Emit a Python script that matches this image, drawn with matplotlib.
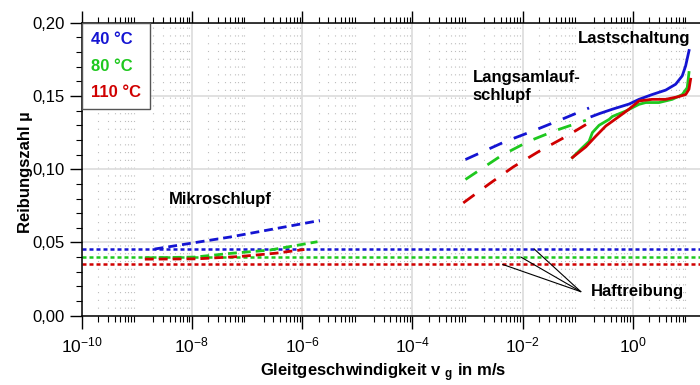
import numpy as np
import matplotlib
matplotlib.use("Agg")
import matplotlib.pyplot as plt
from matplotlib.ticker import FixedLocator, MultipleLocator, FuncFormatter

plt.rcParams['font.family'] = ['Liberation Sans', 'DejaVu Sans']
plt.rcParams['mathtext.fontset'] = 'custom'
plt.rcParams['mathtext.rm'] = 'Liberation Sans'
plt.rcParams['mathtext.bf'] = 'Liberation Sans:bold'
plt.rcParams['mathtext.it'] = 'Liberation Sans:italic'

labels = ["40 °C", "80 °C", "110 °C"]
colors = ["#1414d2", "#1ec81e", "#d00000"]

# Haftreibung (static friction), horizontal levels
haft_mu = [0.0455, 0.040, 0.035]

# Mikroschlupf (dashed)
mikro_v = [
    [2.1e-9, 4.9e-8, 2.1e-6],
    [1.4e-9, 1.1e-8, 4.9e-8, 2.6e-7, 1.9e-6],
    [1.4e-9, 1.2e-8, 7.4e-8, 3.4e-7, 1.1e-6],
]
mikro_mu = [
    [0.0455, 0.0537, 0.065],
    [0.0395, 0.0400, 0.0425, 0.0448, 0.0505],
    [0.0386, 0.0388, 0.0404, 0.0427, 0.0452],
]

# Langsamlaufschlupf (dashed)
lang_v = [
    [0.00092, 0.0048, 0.0152, 0.0496, 0.161],
    [0.00092, 0.00424, 0.0132, 0.0403, 0.141],
    [0.00084, 0.00249, 0.0068, 0.0201, 0.0594, 0.183],
]
lang_mu = [
    [0.1066, 0.1188, 0.126, 0.1338, 0.1418],
    [0.093, 0.1096, 0.1192, 0.1265, 0.1334],
    [0.077, 0.090, 0.1016, 0.1123, 0.122, 0.133],
]

# Lastschaltung (solid)
last_v = [
    [0.181, 0.25, 0.43, 0.86, 1.30, 2.26, 3.96, 6.0, 7.9, 9.1, 10.5],
    [0.0805, 0.122, 0.161, 0.185, 0.245, 0.372, 0.427, 0.746, 1.30, 1.72,
     2.99, 5.21, 7.93, 9.75, 10.47],
    [0.0805, 0.141, 0.214, 0.324, 0.564, 0.857, 1.30, 2.26, 3.96, 6.90,
     9.12, 10.47, 11.2],
]
last_mu = [
    [0.136, 0.138, 0.141, 0.1445, 0.1477, 0.151, 0.154, 0.158, 0.1637,
     0.1705, 0.181],
    [0.108, 0.1147, 0.119, 0.125, 0.130, 0.134, 0.136, 0.1397, 0.1443,
     0.1455, 0.1455, 0.1477, 0.151, 0.1557, 0.166],
    [0.108, 0.1153, 0.1226, 0.1295, 0.136, 0.141, 0.1466, 0.1477, 0.1477,
     0.1496, 0.151, 0.1546, 0.1614],
]

# pointer lines for "Haftreibung"
haft_text = (0.114, 0.0164)
haft_tip_v = [0.0163, 0.00935, 0.00435]

fig = plt.figure(figsize=(7, 3.85), dpi=100)
ax = fig.add_axes([0.1167, 0.180, 0.8833, 0.761])
ax.set_xscale("log")
ax.set_xlim(1e-10, 10 ** 1.22)
ax.set_ylim(0, 0.2)

handles = []
for i in range(3):
    ax.axhline(haft_mu[i], color=colors[i], lw=1.8, linestyle=(0, (1.6, 1.2)))
    ax.plot(mikro_v[i], mikro_mu[i], color=colors[i], lw=2,
            linestyle=(0, (3.2, 1.8)))
    ax.plot(lang_v[i], lang_mu[i], color=colors[i], lw=2,
            linestyle=(0, (5, 4.5)))
    h, = ax.plot(last_v[i], last_mu[i], color=colors[i], lw=2)
    handles.append(h)

for i in range(3):
    ax.annotate("", xy=(haft_tip_v[i], haft_mu[i]), xytext=haft_text,
                arrowprops=dict(arrowstyle="-", color="black", lw=0.8,
                                shrinkA=0, shrinkB=0))

tb = dict(fontsize=12, fontweight="bold")
ax.text(3.3e-8, 0.0792, "Mikroschlupf", ha="center", va="center", **tb)
ax.text(1.23e-3, 0.1565, "Langsamlauf-\nschlupf", ha="left", va="center", **tb)
ax.text(0.102, 0.1893, "Lastschaltung", ha="left", va="center", **tb)
ax.text(0.173, 0.0164, "Haftreibung", ha="left", va="center", **tb)

# ticks
majors = [10.0 ** e for e in range(-10, 1, 2)]
minors = [k * 10.0 ** e for e in range(-10, 2) for k in range(2, 10)]
ax.xaxis.set_major_locator(FixedLocator(majors))
ax.xaxis.set_minor_locator(FixedLocator(minors))
ax.xaxis.set_major_formatter(FuncFormatter(lambda v, p: r"$10^{%d}$" % round(np.log10(v))))
ax.xaxis.set_minor_formatter(FuncFormatter(lambda v, p: ""))
ax.yaxis.set_major_locator(MultipleLocator(0.05))
ax.yaxis.set_minor_locator(MultipleLocator(0.01))
ax.yaxis.set_major_formatter(FuncFormatter(lambda v, p: f"{v:.2f}".replace(".", ",")))

ax.tick_params(axis="x", which="major", direction="out", length=9, width=1,
               top=True, labelsize=12.5, pad=5)
ax.tick_params(axis="x", which="minor", direction="out", length=4.5, width=0.8,
               top=True)
ax.tick_params(axis="y", which="major", direction="out", length=9, width=1,
               labelsize=12)
ax.tick_params(axis="y", which="minor", direction="out", length=4, width=0.8)

ax.spines["right"].set_visible(False)
for s in ["left", "bottom", "top"]:
    ax.spines[s].set_linewidth(1.1)

ax.grid(which="major", color="#dcdcdc", lw=1.2)
ax.xaxis.grid(which="minor", color="#bdbdbd", lw=0.8, linestyle=(0, (1, 6)))
ax.set_axisbelow(True)

ax.set_xlabel(r"Gleitgeschwindigkeit v $_{\mathbf{g}}$ in m/s", fontsize=12,
              fontweight="bold")
ax.set_ylabel("Reibungszahl µ", fontsize=12, fontweight="bold")
ax.xaxis.set_label_coords(0.487, -0.155)
ax.yaxis.set_label_coords(-0.078, 0.49)

leg = ax.legend(handles, labels, loc="upper left", bbox_to_anchor=(0, 1),
                borderaxespad=0, handlelength=0, handletextpad=0,
                prop=dict(weight="bold", size=12), labelcolor="linecolor",
                fancybox=False, edgecolor="#555555", framealpha=1,
                borderpad=0.55, labelspacing=0.7)
leg.get_frame().set_linewidth(1)

fig.savefig("out.png", dpi=100)
